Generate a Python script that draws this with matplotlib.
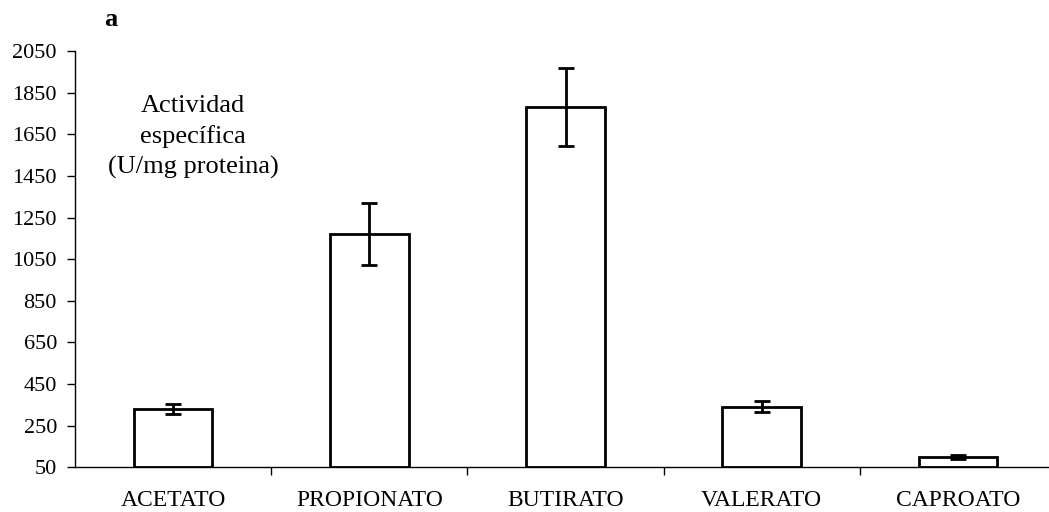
import matplotlib
matplotlib.use("Agg")
import matplotlib.pyplot as plt
import numpy as np

categories = ["ACETATO", "PROPIONATO", "BUTIRATO", "VALERATO", "CAPROATO"]
values = [330, 1170, 1780, 342, 100]
errors = [23, 148, 187, 25, 8]
yticks = [50, 250, 450, 650, 850, 1050, 1250, 1450, 1650, 1850, 2050]

plt.rcParams['font.family'] = ['Liberation Serif', 'DejaVu Serif']

fig = plt.figure(figsize=(10.49, 5.12), dpi=100)
ax = fig.add_axes([75/1049, (512-467.3)/512, 981/1049, 416.3/512])

x = np.arange(len(categories))
ax.bar(x, [v - 50 for v in values], bottom=50, width=0.4, color='white',
       edgecolor='black', linewidth=2, zorder=2)
ax.errorbar(x, values, yerr=errors, fmt='none', ecolor='black',
            elinewidth=2, capsize=5.5, capthick=2, zorder=3)

ax.set_xlim(-0.5, 4.5)
ax.set_ylim(50, 2050)
ax.set_yticks(yticks)
ax.set_yticklabels([str(t) for t in yticks], fontsize=16)
ax.set_xticks(x)
ax.set_xticklabels(categories, fontsize=17)
ax.tick_params(axis='x', length=0, pad=16)
ax.set_xticks(np.arange(0.5, 4.5, 1), minor=True)
ax.tick_params(axis='x', which='minor', length=6, width=1, direction='out')
ax.tick_params(axis='y', length=6, width=1, direction='out', pad=7)

for s in ['top', 'right']:
    ax.spines[s].set_visible(False)
ax.spines['left'].set_linewidth(1)
ax.spines['bottom'].set_linewidth(1)

fig.text(193/1049, 1 - 137/512, "Actividad\nespecífica\n(U/mg proteina)",
         ha='center', va='center', fontsize=19, linespacing=1.42)
fig.text(111/1049, 1 - 20/512, "a", ha='center', va='center',
         fontsize=19, fontweight='bold')

fig.savefig("out.png", dpi=100)
